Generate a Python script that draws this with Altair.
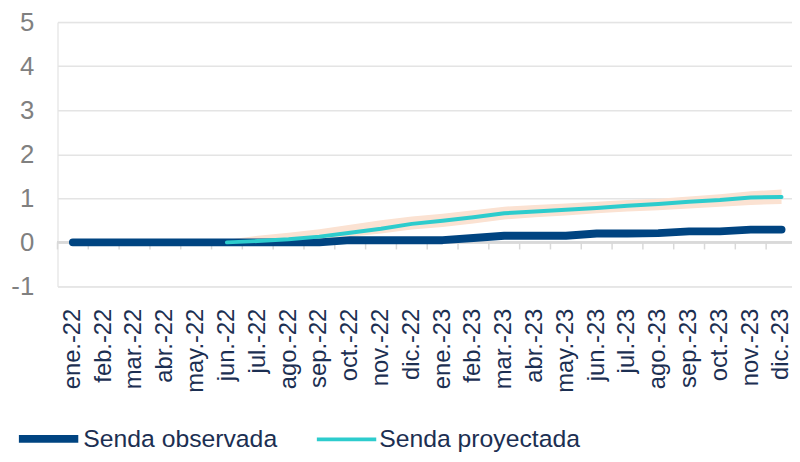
import altair as alt
import pandas as pd

months = ["ene.-22", "feb.-22", "mar.-22", "abr.-22", "may.-22", "jun.-22",
          "jul.-22", "ago.-22", "sep.-22", "oct.-22", "nov.-22", "dic.-22",
          "ene.-23", "feb.-23", "mar.-23", "abr.-23", "may.-23", "jun.-23",
          "jul.-23", "ago.-23", "sep.-23", "oct.-23", "nov.-23", "dic.-23"]

observada = [0.0, 0.0, 0.0, 0.0, 0.0, 0.0, 0.0, 0.0, 0.0, 0.05, 0.05, 0.05,
             0.05, 0.10, 0.15, 0.15, 0.15, 0.20, 0.20, 0.21, 0.25, 0.25, 0.29, 0.29]

proy_months = months[5:]
proyectada = [0.0, 0.03, 0.07, 0.13, 0.22, 0.31, 0.42, 0.49, 0.57, 0.66,
              0.70, 0.74, 0.78, 0.83, 0.87, 0.92, 0.96, 1.02, 1.03]
banda_inf = [0.0, 0.0, 0.03, 0.07, 0.13, 0.20, 0.29, 0.35, 0.43, 0.52,
             0.57, 0.61, 0.66, 0.70, 0.73, 0.77, 0.81, 0.85, 0.87]
banda_sup = [0.06, 0.15, 0.22, 0.30, 0.40, 0.50, 0.59, 0.65, 0.73, 0.81,
             0.85, 0.88, 0.92, 0.96, 0.99, 1.04, 1.09, 1.16, 1.20]

y_ticks = [-1, 0, 1, 2, 3, 4, 5]

series = ["Senda observada", "Senda proyectada"]
colors = ["#004481", "#2DCCCD"]

lines_df = pd.concat([
    pd.DataFrame({"mes": months, "valor": observada, "serie": series[0]}),
    pd.DataFrame({"mes": proy_months, "valor": proyectada, "serie": series[1]}),
])
band_df = pd.DataFrame({"mes": proy_months, "lo": banda_inf, "hi": banda_sup})
month_df = pd.DataFrame({"mes": months})

W = 742
H = 267
text_col = "#1c2f52"

xscale = alt.Scale(type="band", domain=months, paddingInner=0, paddingOuter=0, range=[0, 747])
xaxis = alt.Axis(title=None, labelAngle=-90, labelFontSize=24, labelColor=text_col,
                 labelFont="Liberation Sans", labelPadding=22, ticks=False,
                 domain=False, grid=False)
yscale = alt.Scale(domain=[-1, 5], nice=False, zero=False)
yaxis = alt.Axis(title=None, values=y_ticks, labelFontSize=26, labelColor="#808080",
                 labelFont="Liberation Sans", labelPadding=24, ticks=False,
                 labelExpr="'' + datum.value",
                 domain=False, grid=True, gridColor="#e4e4e4", gridWidth=1.5)

legend_kw = dict(title=None, orient="none", legendX=-43, legendY=387,
                 direction="horizontal", symbolType="stroke", symbolSize=3600,
                 labelFontSize=25, labelFont="Liberation Sans", labelColor=text_col,
                 columnPadding=32, labelOffset=1, labelLimit=0)

band = alt.Chart(band_df).mark_area(color="#FBE2D2", opacity=1).encode(
    x=alt.X("mes:N", scale=xscale, axis=xaxis, sort=months),
    y=alt.Y("lo:Q", scale=yscale, axis=yaxis),
    y2="hi:Q",
)

zero_line = alt.Chart(month_df).mark_rule(color="#d9d9d9", strokeWidth=2).encode(
    y=alt.datum(0)
)

ticks = alt.Chart(month_df).mark_rule(color="#d9d9d9", strokeWidth=1.5).encode(
    x=alt.X("mes:N", sort=months, bandPosition=0),
    y=alt.datum(0),
    y2=alt.datum(-0.16),
)

lines = alt.Chart(lines_df).mark_line(strokeCap="round", strokeJoin="round").encode(
    x=alt.X("mes:N", sort=months),
    y=alt.Y("valor:Q"),
    color=alt.Color("serie:N", scale=alt.Scale(domain=series, range=colors),
                    legend=alt.Legend(**legend_kw)),
    strokeWidth=alt.StrokeWidth("serie:N", scale=alt.Scale(domain=series, range=[8, 4]),
                                legend=alt.Legend(**legend_kw)),
)

chart = alt.layer(band, zero_line, ticks, lines).properties(
    width=W, height=H,
    autosize=alt.AutoSizeParams(type="none"),
    padding={"left": 50, "top": 12, "right": 0, "bottom": 165},
).configure_view(stroke=None).configure(background="white")

chart.save("out.html", embed_options={"renderer": "svg", "actions": False})
